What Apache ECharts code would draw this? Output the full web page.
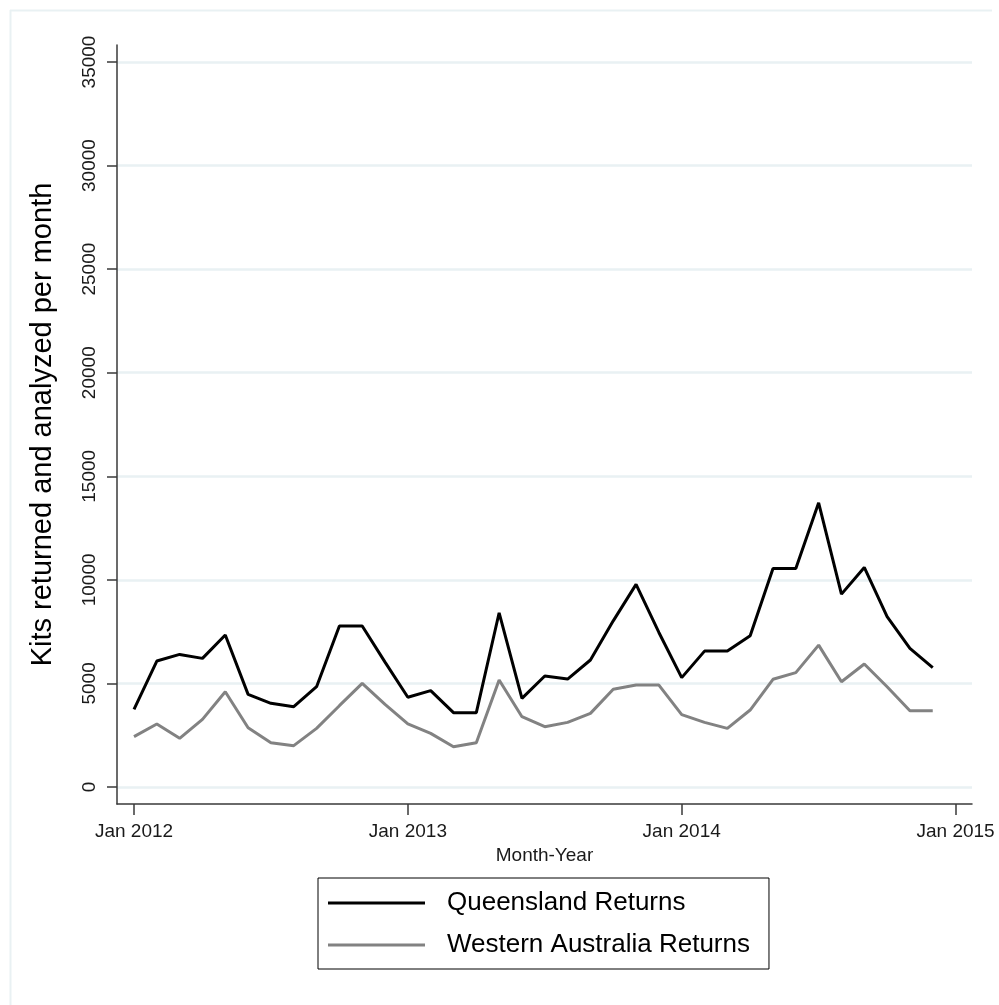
<!DOCTYPE html>
<html>
<head>
<meta charset="utf-8">
<script src="https://cdn.jsdelivr.net/npm/echarts@6/dist/echarts.min.js"></script>
<style>
  html, body { margin: 0; padding: 0; background: #ffffff; }
  #chart { width: 999px; height: 1005px; }
</style>
</head>
<body>
<div id="chart"></div>
<script>
// Monthly returns, Jan 2012 - Dec 2014
const months = [
  '2012-01','2012-02','2012-03','2012-04','2012-05','2012-06','2012-07','2012-08','2012-09','2012-10','2012-11','2012-12',
  '2013-01','2013-02','2013-03','2013-04','2013-05','2013-06','2013-07','2013-08','2013-09','2013-10','2013-11','2013-12',
  '2014-01','2014-02','2014-03','2014-04','2014-05','2014-06','2014-07','2014-08','2014-09','2014-10','2014-11','2014-12'
];
const queensland = [
  3750, 6080, 6400, 6210, 7335, 4470, 4040, 3875, 4840, 7770, 7770, 6030,
  4330, 4650, 3590, 3590, 8410, 4280, 5360, 5210, 6130, 8020, 9780, 7460,
  5280, 6560, 6560, 7300, 10550, 10550, 13720, 9310, 10600, 8220, 6690, 5760
];
const westernAustralia = [
  2430, 3040, 2350, 3265, 4600, 2860, 2140, 1995, 2830, 3925, 5000, 3990,
  3050, 2590, 1945, 2140, 5165, 3395, 2910, 3120, 3555, 4715, 4920, 4920,
  3490, 3120, 2830, 3715, 5200, 5520, 6850, 5080, 5935, 4840, 3680, 3680
];
const xTickDates = ['2012-01', '2013-01', '2014-01', '2015-01'];
const xTickLabels = ['Jan 2012', 'Jan 2013', 'Jan 2014', 'Jan 2015'];
const yTickValues = [0, 5000, 10000, 15000, 20000, 25000, 30000, 35000];

// Months counted from Jan 2012 give the position along the x axis
function monthIndex(ym) {
  const [y, m] = ym.split('-').map(Number);
  return (y - 2012) * 12 + (m - 1);
}
const xTicks = xTickDates.map(monthIndex);

const qlData = months.map((m, i) => [monthIndex(m), queensland[i]]);
const waData = months.map((m, i) => [monthIndex(m), westernAustralia[i]]);

const FONT = '"Liberation Sans", Arial, sans-serif';
const AXIS_COLOR = '#3a3a3a';
const GRID_COLOR = '#e9f1f3';
const QL_COLOR = '#000000';
const WA_COLOR = '#828282';

const chart = echarts.init(document.getElementById('chart'), null, { renderer: 'canvas' });

chart.setOption({
  backgroundColor: '#ffffff',
  animation: false,
  textStyle: { fontFamily: FONT },
  graphic: [
    { type: 'line', shape: { x1: 10, y1: 10.5, x2: 992, y2: 10.5 }, style: { stroke: GRID_COLOR, lineWidth: 2 } },
    { type: 'line', shape: { x1: 10.5, y1: 10, x2: 10.5, y2: 1005 }, style: { stroke: GRID_COLOR, lineWidth: 2 } }
  ],
  grid: { left: 117, right: 27, top: 45, bottom: 201, containLabel: false },
  xAxis: {
    type: 'value',
    min: -0.745,
    max: 36.72,
    name: 'Month-Year',
    nameLocation: 'middle',
    nameGap: 35,
    nameTextStyle: { fontSize: 19, color: '#1a1a1a', fontFamily: FONT },
    axisLine: { show: true, onZero: false, lineStyle: { color: AXIS_COLOR, width: 1.5 } },
    axisTick: { show: true, length: 11, customValues: xTicks, lineStyle: { color: AXIS_COLOR, width: 1.5 } },
    axisLabel: {
      customValues: xTicks,
      fontSize: 19,
      color: '#1a1a1a',
      margin: 18,
      fontFamily: FONT,
      formatter: function (v) {
        const idx = xTicks.indexOf(v);
        return idx >= 0 ? xTickLabels[idx] : '';
      }
    },
    splitLine: { show: false }
  },
  yAxis: {
    type: 'value',
    min: -821,
    max: 35821,
    name: 'Kits returned and analyzed per month',
    nameLocation: 'middle',
    nameGap: 60,
    nameTextStyle: { fontSize: 29, color: '#000000', fontFamily: FONT },
    axisLine: { show: true, onZero: false, lineStyle: { color: AXIS_COLOR, width: 1.5 } },
    axisTick: { show: true, length: 10, customValues: yTickValues, lineStyle: { color: AXIS_COLOR, width: 1.5 } },
    axisLabel: {
      customValues: yTickValues,
      rotate: 90,
      fontSize: 19,
      color: '#1a1a1a',
      margin: 18,
      fontFamily: FONT,
      formatter: function (v) { return String(Math.round(v)); }
    },
    splitLine: { show: true, lineStyle: { color: GRID_COLOR, width: 2.5 } }
  },
  legend: {
    show: true,
    orient: 'vertical',
    left: 318,
    top: 878,
    icon: 'rect',
    itemWidth: 97,
    itemHeight: 3,
    itemGap: 16,
    padding: [12, 19, 11, 10],
    borderColor: '#000000',
    borderWidth: 1,
    textStyle: { fontSize: 26, color: '#000000', padding: [0, 0, 0, 17], lineHeight: 24, fontFamily: FONT },
    data: [
      { name: 'Queensland Returns', itemStyle: { color: QL_COLOR } },
      { name: 'Western Australia Returns', itemStyle: { color: WA_COLOR } }
    ]
  },
  series: [
    {
      name: 'Queensland Returns',
      type: 'line',
      data: qlData,
      symbol: 'none',
      lineStyle: { color: QL_COLOR, width: 3 },
      itemStyle: { color: QL_COLOR }
    },
    {
      name: 'Western Australia Returns',
      type: 'line',
      data: waData,
      symbol: 'none',
      lineStyle: { color: WA_COLOR, width: 3 },
      itemStyle: { color: WA_COLOR }
    }
  ]
});
</script>
</body>
</html>
